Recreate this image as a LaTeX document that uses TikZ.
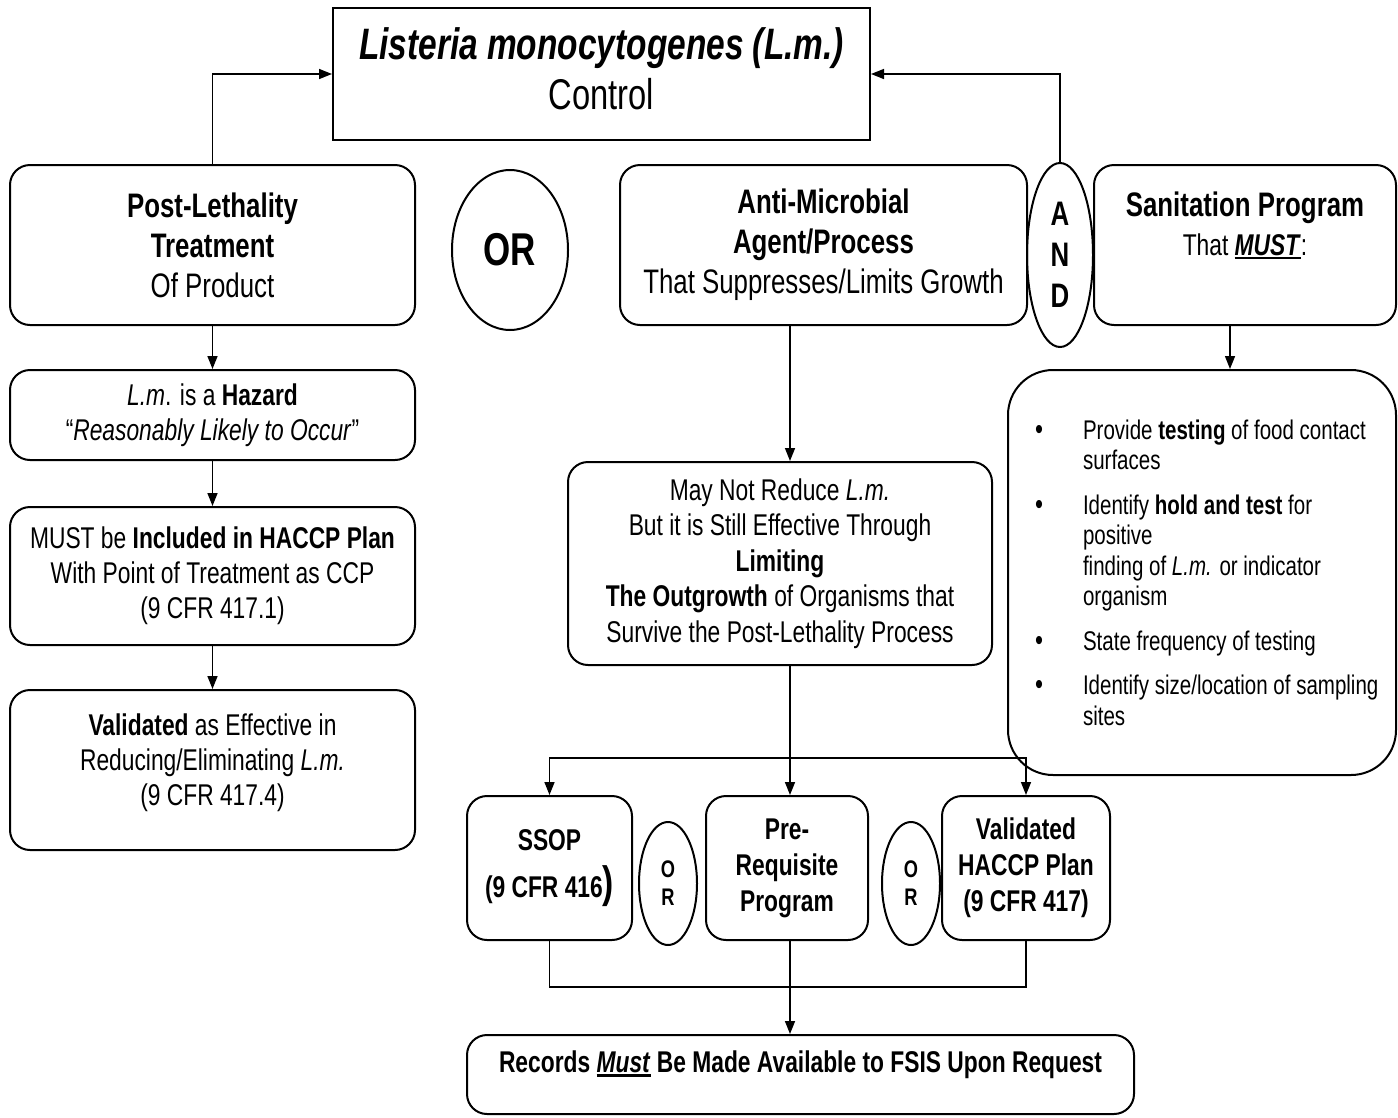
\documentclass[tikz,border=0pt]{standalone}
\usepackage{fontspec}
\setmainfont{Liberation Sans}[FakeStretch=0.76]
\usetikzlibrary{arrows.meta,shapes.geometric,calc}
\newcommand\thul[1]{\setbox0\hbox{#1}\rlap{\rule[-4pt]{\wd0}{2.5pt}}\box0\relax}
\newcommand\bl[2]{\makebox[334pt][l]{\makebox[48pt][l]{#1}#2}}
\newcommand\bdot{{\fontsize{30}{0}\selectfont\textbullet}}
\begin{document}
\begin{tikzpicture}[x=1pt,y=-1pt,
  box/.style={draw,line width=2pt,rounded corners=20pt,align=center,inner sep=0pt},
  ell/.style={draw,line width=2pt,ellipse,inner sep=0pt,align=center},
  conn/.style={line width=1.5pt},
  arr/.style={line width=1.5pt,-{Triangle[length=13pt,width=10pt]}},
  fbig/.style={font=\fontsize{34}{40}\selectfont},
  fmid/.style={font=\fontsize{30}{35}\selectfont}]
\useasboundingbox (0,0) rectangle (1398,1117);

\node[draw,line width=2pt,minimum width=537pt,minimum height=132pt,align=center,inner sep=0pt,font=\fontsize{44}{50}\selectfont] (title) at (601.5,74) {\textbf{\textit{Listeria monocytogenes (L.m.)}}\\{\fontsize{43}{50}\selectfont Control}\\[-40pt]\mbox{}};

\node[box,fbig,minimum width=405pt,minimum height=160pt] (post) at (212.5,245) {\textbf{Post-Lethality}\\\textbf{Treatment}\\Of Product};
\node[box,fmid,minimum width=405pt,minimum height=90pt] (haz) at (212.5,415) {\textit{L.m}. is a \textbf{Hazard}\\“\textit{Reasonably Likely to Occur}”};
\node[box,fmid,minimum width=405pt,minimum height=138pt] (must) at (212.5,576) {MUST be \textbf{Included in HACCP Plan}\\With Point of Treatment as CCP\\(9 CFR 417.1)};
\node[box,fmid,minimum width=405pt,minimum height=160pt] (val) at (212.5,770) {\textbf{Validated} as Effective in\\Reducing/Eliminating \textit{L.m.}\\(9 CFR 417.4)\\[-14pt]\mbox{}};

\node[ell,minimum width=116pt,minimum height=160pt,font=\fontsize{46}{46}\selectfont\bfseries] (orbig) at (510,250) {OR};

\node[box,fbig,minimum width=407pt,minimum height=160pt] (anti) at (823.5,245) {\textbf{Anti-Microbial}\\\textbf{Agent/Process}\\That Suppresses/Limits Growth};

\node[ell,minimum width=66pt,minimum height=184pt,font=\fontsize{34}{41}\selectfont\bfseries] (and) at (1060,255) {A\\N\\D};

\node[box,minimum width=302pt,minimum height=160pt,font=\fontsize{34}{39}\selectfont] (san) at (1245,245) {\textbf{Sanitation Program}\\{\fontsize{30}{39}\selectfont That \thul{\textbf{\textit{MUST}}}:}\\[4pt]\mbox{}};

\node[box,rounded corners=45pt,minimum width=388pt,minimum height=405pt,align=left,font=\fontsize{27}{30.5}\selectfont] (bul) at (1202,572.5) {\bl{\bdot}{Provide \textbf{testing} of food contact}\\
\bl{}{surfaces}\\[14pt]
\bl{\bdot}{Identify \textbf{hold and test} for}\\
\bl{}{positive}\\
\bl{}{finding of \textit{L.m.} or indicator}\\
\bl{}{organism}\\[14pt]
\bl{\bdot}{State frequency of testing}\\[14pt]
\bl{\bdot}{Identify size/location of sampling}\\
\bl{}{sites}};

\node[box,minimum width=424pt,minimum height=203pt,font=\fontsize{30}{35.5}\selectfont] (may) at (780,563.5) {May Not Reduce \textit{L.m.}\\But it is Still Effective Through\\\textbf{Limiting}\\\textbf{The Outgrowth} of Organisms that\\Survive the Post-Lethality Process};

\node[box,minimum width=165pt,minimum height=144pt,font=\fontsize{30}{47}\selectfont\bfseries] (ssop) at (549.5,868) {SSOP\\(9 CFR 416{\fontsize{44}{47}\selectfont)}};
\node[ell,minimum width=58pt,minimum height=123pt,font=\fontsize{24}{28}\selectfont\bfseries] (or1) at (668,883.5) {O\\R};
\node[box,minimum width=162pt,minimum height=144pt,font=\fontsize{30}{36}\selectfont\bfseries] (pre) at (787,868) {Pre-\\Requisite\\Program};
\node[ell,minimum width=58pt,minimum height=123pt,font=\fontsize{24}{28}\selectfont\bfseries] (or2) at (911,883.5) {O\\R};
\node[box,minimum width=168pt,minimum height=144pt,font=\fontsize{30}{36}\selectfont\bfseries] (vhp) at (1026,868) {Validated\\HACCP Plan\\(9 CFR 417)};

\node[box,minimum width=667pt,minimum height=79pt,font=\fontsize{30}{35}\selectfont\bfseries] (rec) at (800.5,1074.5) {Records \thul{\textit{Must}} Be Made Available to FSIS Upon Request\\[-10pt]\mbox{}};

\coordinate (mx) at (790,0);
\coordinate (sx) at (1230,0);
\coordinate (bus1) at (790,758);
\coordinate (bus2) at (790,987);

\draw[arr] (post.north) |- (title.west);
\draw[arr] (and.north) |- (title.east);
\draw[arr] (post.south) -- (haz.north);
\draw[arr] (haz.south) -- (must.north);
\draw[arr] (must.south) -- (val.north);
\draw[arr] (san.south -| sx) -- (bul.north -| sx);
\draw[arr] (anti.south -| mx) -- (may.north -| mx);
\draw[conn] (may.south -| mx) -- (bus1);
\draw[arr] (bus1) -| (ssop.north);
\draw[arr] (bus1) -| (vhp.north);
\draw[arr] (bus1) -- (bus1 |- pre.north);
\draw[conn] (ssop.south) |- (bus2) -| (vhp.south);
\draw[arr] (pre.south -| mx) -- (rec.north -| mx);
\end{tikzpicture}
\end{document}
